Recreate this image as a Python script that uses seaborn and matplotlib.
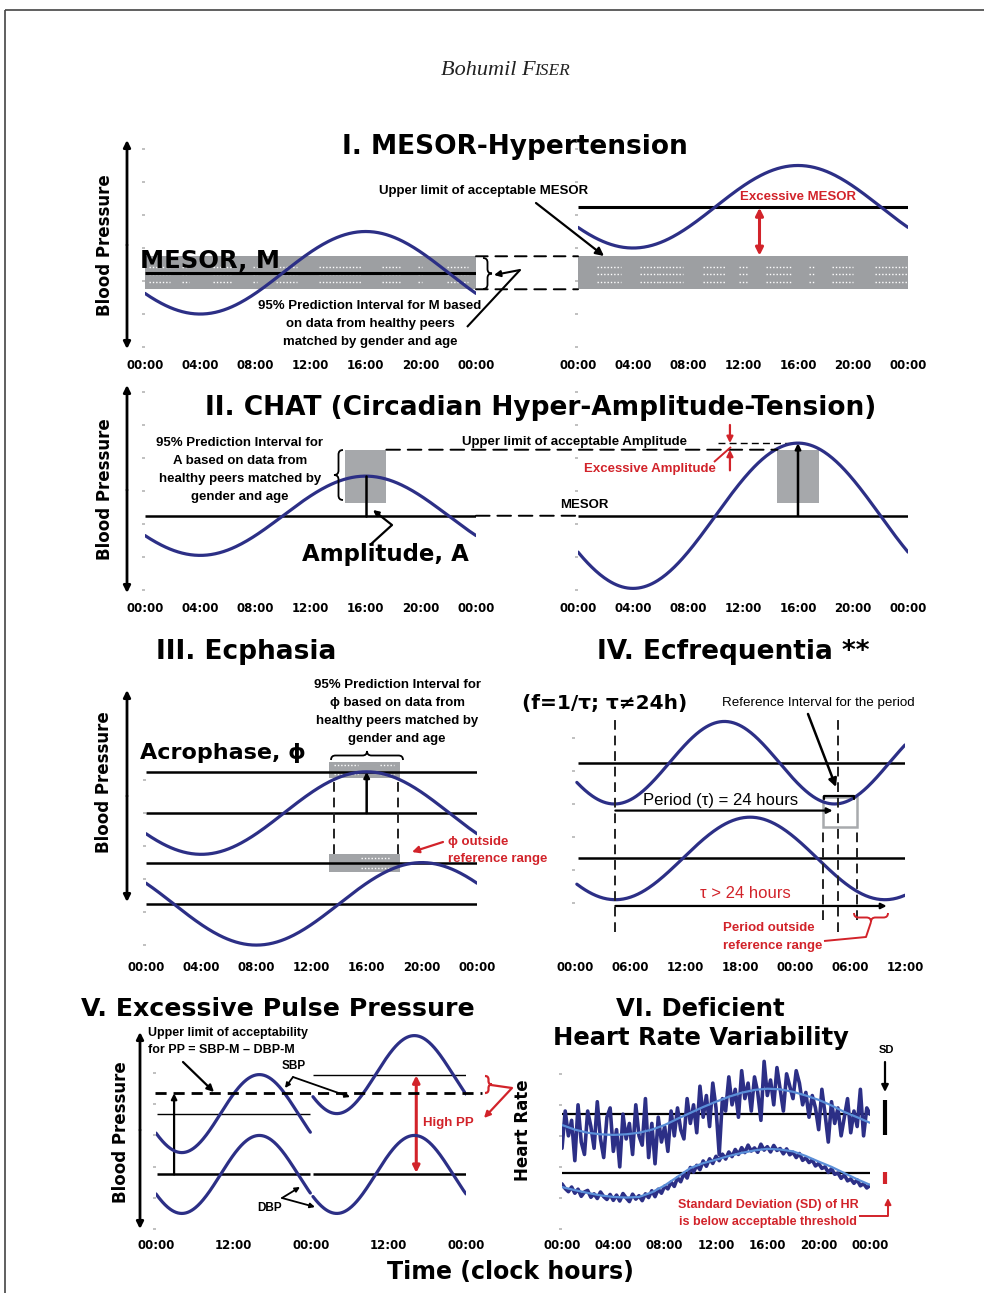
import numpy as np
import matplotlib
matplotlib.use("Agg")
import matplotlib.pyplot as plt
from matplotlib.path import Path
from matplotlib.patches import PathPatch, Rectangle, ConnectionPatch
import seaborn as sns

W, H = 984, 1293
sns.set_theme(style="white")
plt.rcParams["font.family"] = ["DejaVu Sans"]

NAVY = "#2C2F86"
LIGHT = "#5B8FD8"
RED = "#D2232A"
BAND = "#9D9FA2"
AR = ["Liberation Sans", "DejaVu Sans"]

# ------------------------------------------------------------------ data
ticks24 = [0, 4, 8, 12, 16, 20, 24]
labels24 = ["00:00", "04:00", "08:00", "12:00", "16:00", "20:00", "00:00"]
ticks36 = [0, 6, 12, 18, 24, 30, 36]
labels36 = ["00:00", "06:00", "12:00", "18:00", "00:00", "06:00", "12:00"]
ticks48 = [0, 12, 24, 36, 48]
labels48 = ["00:00", "12:00", "00:00", "12:00", "00:00"]
bp_ticks = [60, 80, 100, 120, 140, 160, 180]

# I. MESOR-hypertension (cosinor: MESOR, amplitude, acrophase in h)
I_mesor = [105, 145]
I_amp = [25, 25]
I_acro = [16, 16]
I_mesor_pi = [95, 115]
I_excess_at = 13.2

# II. CHAT
II_mesor = [105, 105]
II_amp = [24, 44]
II_acro = [16, 16]
II_amp_pi = [113, 145]
II_pi_hours = [14.5, 17.5]

# III. Ecphasia
III_mesor = [140, 85]
III_amp = [25, 25]
III_acro = [16, 20]
III_levels = [165, 140, 110, 85]
III_pi_hours = [13.3, 18.4]
III_box_top = [161, 171]
III_box_bot = [104, 115]

# IV. Ecfrequentia
IV_mesor = [145, 87]
IV_amp = [25, 25]
IV_acro = [16.3, 19.1]
IV_period = [24.0, 29.4]
IV_trough = 4.4
IV_ref_window = [27.0, 30.75]
IV_ref_center = 28.7
IV_box_y = [106, 124]

# V. Excessive pulse pressure
V_sbp_mesor = [134, 159]
V_dbp_mesor = [95, 95]
V_amp = 25
V_acro = 16
V_pp_limit = 147

# VI. Deficient heart rate variability (15-min samples, 00:00 - 24:00)
hr_noisy = [76, 88, 80, 85, 72, 90, 78, 74, 88, 83, 76, 91, 79, 73, 86, 89,
            75, 82, 70, 87, 79, 84, 74, 90, 80, 77, 92, 73, 84, 71, 86, 78,
            83, 75, 88, 80, 89, 82, 79, 92, 84, 90, 81, 96, 86, 93, 83, 97,
            89, 74, 92, 88, 99, 90, 95, 86, 101, 92, 97, 88, 99, 94, 85, 104,
            93, 98, 90, 102, 95, 88, 100, 96, 92, 101, 97, 90, 94, 86, 93, 89,
            82, 95, 87, 78, 91, 84, 89, 80, 86, 92, 81, 88, 83, 95, 80, 89, 87]
hr_smooth = [83.5, 82, 81, 80.5, 80.3, 80.5, 81, 82, 83.5, 85.5, 87.4, 89.3, 91,
             92.6, 93.9, 94.8, 95.2, 95, 94.2, 93, 91.6, 89.8, 87.7, 86, 84.2]
sd_noisy = [64.5, 63.0, 62.0, 63.5, 61.5, 62.8, 60.5, 61.9, 62.4, 60.2, 61.3, 59.8,
            61.9, 60.4, 59.5, 61.1, 59.2, 60.9, 59.0, 61.4, 60.0, 58.8, 61.2, 59.6,
            60.7, 59.1, 61.3, 60.1, 62.3, 60.4, 62.8, 61.5, 63.8, 62.9, 65.1, 63.7,
            66.5, 65.2, 67.9, 66.4, 69.8, 68.3, 70.5, 69.1, 71.9, 70.2, 72.6, 71.1,
            73.4, 72.0, 74.1, 72.5, 74.8, 73.3, 75.6, 74.0, 76.2, 74.6, 77.0, 75.1,
            76.1, 74.7, 77.3, 75.4, 76.5, 74.8, 76.9, 75.3, 75.9, 74.2, 75.8, 73.9,
            74.7, 73.0, 74.3, 72.1, 72.9, 71.4, 72.2, 70.3, 71.1, 69.5, 70.0, 68.2,
            69.4, 67.6, 68.0, 66.3, 67.4, 65.5, 66.1, 64.7, 65.8, 63.9, 64.6, 63.2, 64.0]
sd_smooth = [63.5, 62.5, 61.6, 60.8, 60.3, 60.1, 60.3, 61.8, 64, 66.8, 69.6, 71.2,
             72.3, 73.5, 74.5, 75.3, 75.8, 75.6, 75, 73.5, 71.7, 70, 68, 66, 64.2]
VI_levels = [87, 68]

# ------------------------------------------------------------------ helpers
fig = plt.figure(figsize=(W / 100, H / 100), dpi=100)
fig.patch.set_facecolor("white")
all_axes = []


def make_ax(x0, x1, ytop, ybot, xlim, ylim, xt, xl, yt):
    ax = fig.add_axes([x0 / W, 1 - ybot / H, (x1 - x0) / W, (ybot - ytop) / H])
    ax.set_facecolor("none")
    for s in ax.spines.values():
        s.set_visible(False)
    ax.set_xticks(xt)
    ax.set_xticklabels(xl, fontsize=8.5, fontweight="bold")
    ax.set_yticks(yt)
    ax.set_yticklabels([])
    ax.tick_params(axis="x", length=0, pad=5, colors="black")
    ax.tick_params(axis="y", length=2.5, width=1.2, color="#b5b5b5", left=True)
    ax.grid(False)
    all_axes.append((ax, xlim, ylim))
    return ax


def cosinor(t, M, A, phi, tau=24.0):
    return M + A * np.cos(2 * np.pi * (np.asarray(t) - phi) / tau)


def curve(ax, t, y, color=NAVY, lw=2.3, **kw):
    sns.lineplot(x=np.asarray(t), y=np.asarray(y), ax=ax, color=color, linewidth=lw,
                 estimator=None, sort=False, legend=False, **kw)


def hline(ax, y, x0, x1, lw=1.8, color="black", **kw):
    ax.plot([x0, x1], [y, y], color=color, lw=lw, solid_capstyle="butt", **kw)


def darrow(ax, p_from, p_to, color="black", lw=1.6, style="-|>", ms=10):
    ax.annotate("", xy=p_to, xytext=p_from,
                arrowprops=dict(arrowstyle=style, color=color, lw=lw, shrinkA=0,
                                shrinkB=0, mutation_scale=ms), annotation_clip=False)


def connect(axA, pA, axB, pB, **kw):
    con = ConnectionPatch(xyA=pA, coordsA=axA.transData, xyB=pB, coordsB=axB.transData, **kw)
    fig.add_artist(con)


def texture(ax, rows, spans):
    for y in rows:
        for a, b in spans:
            ax.plot([a, b], [y, y], color="white", lw=1.0, ls=(0, (1, 1.4)), zorder=2)


# overlay in pixel coordinates for annotations
ov = fig.add_axes([0, 0, 1, 1], zorder=10)
ov.set_xlim(0, W)
ov.set_ylim(H, 0)
ov.axis("off")
ov.patch.set_alpha(0)


def t_(x, y, s, size=9.5, color="black", weight="bold", ha="center", va="center",
       family=None, **kw):
    ov.text(x, y, s, fontsize=size, color=color, fontweight=weight, ha=ha, va=va,
            family=family or AR, **kw)


def parrow(p_from, p_to, color="black", lw=1.5, style="-|>", ms=10):
    ov.annotate("", xy=p_to, xytext=p_from,
                arrowprops=dict(arrowstyle=style, color=color, lw=lw, shrinkA=0,
                                shrinkB=0, mutation_scale=ms))


def pline(xs, ys, color="black", lw=1.5, **kw):
    ov.plot(xs, ys, color=color, lw=lw, solid_capstyle="butt", **kw)


def brace(p0, p1, depth, color="black", lw=1.3):
    p0 = np.array(p0, float)
    p1 = np.array(p1, float)
    d = p1 - p0
    L = np.hypot(*d)
    d = d / L
    n = np.array([-d[1], d[0]])
    h = depth / 2.0
    r = min(abs(h), L / 4)
    m = (p0 + p1) / 2
    verts = [p0, p0 + n * h, p0 + n * h + d * r, m + n * h - d * r, m + n * h, m + n * depth,
             m + n * h, m + n * h + d * r, p1 + n * h - d * r, p1 + n * h, p1]
    codes = [Path.MOVETO, Path.CURVE3, Path.CURVE3, Path.LINETO, Path.CURVE3, Path.CURVE3,
             Path.CURVE3, Path.CURVE3, Path.LINETO, Path.CURVE3, Path.CURVE3]
    ov.add_patch(PathPatch(Path(verts, codes), fill=False, edgecolor=color, lw=lw))


t24 = np.linspace(0, 24, 241)

# ------------------------------------------------------------------ page frame & header
pline([5, W], [10, 10], color="#444444", lw=1.2)
pline([5, 5], [10, H], color="#444444", lw=1.2)
ov.text(536, 75, "Bohumil F", fontsize=16, style="italic", family=["Liberation Serif", "DejaVu Serif"],
        ha="right", va="baseline", color="#222222")
ov.text(534, 75, "ISER", fontsize=12.5, style="italic", family=["Liberation Serif", "DejaVu Serif"],
        ha="left", va="baseline", color="#222222")

# ------------------------------------------------------------------ Panel I
t_(515, 147, "I. MESOR-Hypertension", size=19, family="DejaVu Sans")
t_(105, 245, "Blood Pressure", size=12, rotation=90, family="DejaVu Sans")
parrow((127, 245), (127, 140), lw=2, ms=10)
parrow((127, 245), (127, 349), lw=2, ms=10)

axIL = make_ax(145, 476, 130, 352, (0, 24), (57, 191.5), ticks24, labels24, bp_ticks)
axIL.fill_between([0, 24], I_mesor_pi[0], I_mesor_pi[1], color=BAND, lw=0, zorder=1)
texture(axIL, [108.5, 104, 99.5],
        [(0.3, 1.8), (2.7, 3.2), (4.9, 6.3), (7.8, 8.1), (9.5, 11), (12.6, 15.7),
         (17.2, 18.5), (19.8, 20.1), (21.9, 23.4)])
hline(axIL, I_mesor[0], 0, 24, lw=2.2, zorder=3)
curve(axIL, t24, cosinor(t24, I_mesor[0], I_amp[0], I_acro[0]), zorder=4)

axIR = make_ax(578, 908, 130, 352, (0, 24), (57, 191.5), ticks24, labels24, bp_ticks)
axIR.fill_between([0, 24], I_mesor_pi[0], I_mesor_pi[1], color=BAND, lw=0, zorder=1)
texture(axIR, [108.5, 104, 99.5],
        [(1.4, 3.1), (4.5, 5.8), (5.9, 7.6), (9.1, 10.7), (11.7, 12.3), (13.7, 15.5),
         (16.8, 17.2), (18.5, 20.0), (21.6, 23.9)])
hline(axIR, I_mesor[1], 0, 24, lw=2.2, zorder=3)
curve(axIR, t24, cosinor(t24, I_mesor[1], I_amp[1], I_acro[1]), zorder=4)
darrow(axIR, (I_excess_at, I_mesor[1] - 0.6), (I_excess_at, I_mesor_pi[1] + 0.4),
       color=RED, lw=2.2, style="<|-|>", ms=11)
for yv in I_mesor_pi:
    connect(axIL, (24, yv), axIR, (0, yv), color="black", lw=1.4, ls=(0, (6, 4)))

t_(140, 268, "MESOR, M", size=17.5, ha="left", va="baseline", family="DejaVu Sans")
t_(798, 197, "Excessive MESOR", size=9.5, color=RED)
t_(484, 191, "Upper limit of acceptable MESOR", size=9.5)
parrow((536, 203), (604, 256), lw=1.6, ms=12)
brace((483, 258), (483, 289), -9, lw=1.3)
pline([467, 520], [327, 270], lw=1.5)
parrow((520, 270), (494, 275), lw=1.5, ms=9)
t_(370, 306, "95% Prediction Interval for M based")
t_(370, 324, "on data from healthy peers")
t_(370, 342, "matched by gender and age")

# ------------------------------------------------------------------ Panel II
t_(541, 408, "II. CHAT (Circadian Hyper-Amplitude-Tension)", size=19, family="DejaVu Sans")
t_(105, 489, "Blood Pressure", size=12, rotation=90, family="DejaVu Sans")
parrow((127, 490), (127, 385), lw=2, ms=10)
parrow((127, 490), (127, 593), lw=2, ms=10)

axIIL = make_ax(145, 476, 385, 595, (0, 24), (57, 184.2), ticks24, labels24, bp_ticks)
axIIL.add_patch(Rectangle((II_pi_hours[0], II_amp_pi[0]), II_pi_hours[1] - II_pi_hours[0],
                          II_amp_pi[1] - II_amp_pi[0], color=BAND, lw=0, zorder=1, alpha=0.9))
hline(axIIL, II_mesor[0], 0, 24, lw=1.8, zorder=3)
curve(axIIL, t24, cosinor(t24, II_mesor[0], II_amp[0], II_acro[0]), zorder=4)
axIIL.plot([II_acro[0], II_acro[0]], [II_mesor[0], II_mesor[0] + II_amp[0]], color="black",
           lw=1.8, zorder=5)

axIIR = make_ax(578, 908, 385, 595, (0, 24), (57, 184.2), ticks24, labels24, bp_ticks)
axIIR.add_patch(Rectangle((II_pi_hours[0], II_amp_pi[0]), II_pi_hours[1] - II_pi_hours[0],
                          II_amp_pi[1] - II_amp_pi[0], color=BAND, lw=0, zorder=1, alpha=0.9))
hline(axIIR, II_mesor[1], 0, 24, lw=1.8, zorder=3)
curve(axIIR, t24, cosinor(t24, II_mesor[1], II_amp[1], II_acro[1]), zorder=4)
darrow(axIIR, (II_acro[1], II_mesor[1]), (II_acro[1], II_mesor[1] + II_amp[1]), lw=1.8, ms=8)
axIIR.plot([10.2, II_acro[1]], [II_mesor[1] + II_amp[1]] * 2, color="black", lw=1.0,
           ls=(0, (5, 3)), clip_on=False)
darrow(axIIR, (11.05, 160), (11.05, II_mesor[1] + II_amp[1]), color=RED, lw=1.6, ms=9)
darrow(axIIR, (11.05, 132.5), (11.05, II_amp_pi[1]), color=RED, lw=1.6, ms=9)
connect(axIIL, (II_pi_hours[1], II_amp_pi[1]), axIIR, (II_pi_hours[0], II_amp_pi[1]),
        color="black", lw=1.4, ls=(0, (7, 4)))
connect(axIIL, (24, II_mesor[0]), axIIR, (0, II_mesor[1]), color="black", lw=1.4,
        ls=(0, (7, 4)))

t_(575, 442, "Upper limit of acceptable Amplitude")
t_(650, 469, "Excessive Amplitude", color=RED)
pline([714, 731], [462, 447], color=RED, lw=1.4)
t_(584, 505, "MESOR")
brace((343, 450), (343, 500), 9, lw=1.3)
t_(240, 443, "95% Prediction Interval for")
t_(240, 461, "A based on data from")
t_(240, 479, "healthy peers matched by")
t_(240, 497, "gender and age")
t_(385, 555, "Amplitude, A", size=16.5, family="DejaVu Sans")
pline([370, 392], [545, 525], lw=1.6)
parrow((392, 525), (373, 510), lw=1.6, ms=8)

# ------------------------------------------------------------------ Panel III
t_(246, 652, "III. Ecphasia", size=19, family="DejaVu Sans")
t_(104, 782, "Blood Pressure", size=12, rotation=90, family="DejaVu Sans")
parrow((127, 796), (127, 690), lw=2, ms=10)
parrow((127, 796), (127, 902), lw=2, ms=10)

axIII = make_ax(146, 477, 685, 954, (0, 24), (54.6, 217.6), ticks24, labels24,
                [60, 80, 100, 120, 140, 160])
for lv in III_levels:
    hline(axIII, lv, 0, 24, lw=1.8, zorder=3)
for box in (III_box_top, III_box_bot):
    axIII.add_patch(Rectangle((III_pi_hours[0], box[0]), III_pi_hours[1] - III_pi_hours[0],
                              box[1] - box[0], color=BAND, lw=0, zorder=1, alpha=0.95))
texture(axIII, [169, 163.5], [(13.6, 15.4), (17.0, 18.0)])
texture(axIII, [112.5, 106.5], [(15.6, 17.7)])
for xv in (III_pi_hours[0] + 0.3, III_pi_hours[1] - 0.1):
    axIII.plot([xv, xv], [III_box_bot[1], III_box_top[0]], color="#222222", lw=1.4,
               ls=(0, (5, 3)), zorder=3)
curve(axIII, t24, cosinor(t24, III_mesor[0], III_amp[0], III_acro[0]), zorder=4)
curve(axIII, t24, cosinor(t24, III_mesor[1], III_amp[1], III_acro[1]), zorder=4)
darrow(axIII, (III_acro[0], III_mesor[0]), (III_acro[0], III_mesor[0] + III_amp[0]), lw=1.8, ms=8)

t_(397, 685, "95% Prediction Interval for")
t_(397, 703, "ϕ based on data from")
t_(397, 721, "healthy peers matched by")
t_(397, 739, "gender and age")
brace((331, 760), (403, 760), -9, lw=1.3)
t_(140, 753, "Acrophase, ϕ", size=16, ha="left", family="DejaVu Sans")
parrow((443, 842), (412, 852), color=RED, lw=1.6, ms=10)
t_(448, 842, "ϕ outside", color=RED, ha="left")
t_(448, 859, "reference range", color=RED, ha="left")

# ------------------------------------------------------------------ Panel IV
t_(733, 652, "IV. Ecfrequentia **", size=19, family="DejaVu Sans")
t_(605, 703, "(f=1/τ; τ≠24h)", size=14.5, family="DejaVu Sans")
t_(818, 703, "Reference Interval for the period", size=9.6, weight="normal")

axIV = make_ax(575, 905, 700, 954, (0, 36), (29.1, 183.0), ticks36, labels36,
               [60, 80, 100, 120, 140, 160])
t36 = np.linspace(0.2, 36, 361)
for lv in IV_mesor:
    hline(axIV, lv, 0.3, 36, lw=1.8, zorder=3)
curve(axIV, t36, cosinor(t36, IV_mesor[0], IV_amp[0], IV_acro[0], IV_period[0]), zorder=4)
curve(axIV, t36, cosinor(t36, IV_mesor[1], IV_amp[1], IV_acro[1], IV_period[1]), zorder=4)
for xv in (IV_trough, IV_ref_center):
    axIV.plot([xv, xv], [42.4, 171], color="#222222", lw=1.4, ls=(0, (5, 3)), zorder=5)
for xv in IV_ref_window:
    axIV.plot([xv, xv], [49.7, IV_box_y[0]], color="#222222", lw=1.4, ls=(0, (5, 3)), zorder=5)
axIV.add_patch(Rectangle((IV_ref_window[0], IV_box_y[0]), IV_ref_window[1] - IV_ref_window[0],
                         IV_box_y[1] - IV_box_y[0], fill=False, edgecolor="#A8AAAD", lw=1.8,
                         zorder=3))
axIV.plot([27.2, 27.2, 30.4, 30.4], [123.3, 124.8, 124.8, 123.3], color="black", lw=1.6, zorder=6)
darrow(axIV, (IV_trough, 116), (IV_trough + IV_period[0] - 0.3, 116), lw=1.6, ms=8)
darrow(axIV, (IV_trough, 58.2), (34.0, 58.2), lw=1.6, ms=8)
t_(721, 800, "Period (τ) = 24 hours", size=12, weight="normal")
t_(745, 893, "τ > 24 hours", size=12, weight="normal", color=RED)
parrow((808, 714), (836, 787), lw=1.8, ms=12)
brace((854, 913), (888, 913), 9, color=RED, lw=1.4)
pline([871, 866, 824], [922, 937, 941], color=RED, lw=1.4)
t_(723, 928, "Period outside", color=RED, ha="left")
t_(723, 946, "reference range", color=RED, ha="left")

# ------------------------------------------------------------------ Panel V
t_(278, 1009, "V. Excessive Pulse Pressure", size=18.2, family="DejaVu Sans")
t_(121, 1132, "Blood Pressure", size=12, rotation=90, family="DejaVu Sans")
parrow((140, 1130), (140, 1032), lw=2, ms=10)
parrow((140, 1130), (140, 1229), lw=2, ms=10)

axV = make_ax(156, 466, 1020, 1232, (0, 48), (58.1, 194.0), ticks48, labels48,
              [60, 80, 100, 120, 140, 160])
tL = np.linspace(0, 23.9, 240)
tR = np.linspace(24.3, 48, 238)
hline(axV, V_sbp_mesor[0], 0.2, 23.9, lw=1.0, zorder=3)
hline(axV, V_sbp_mesor[1], 24.3, 48, lw=1.0, zorder=3)
hline(axV, V_dbp_mesor[0], 0.2, 23.9, lw=1.8, zorder=3)
hline(axV, V_dbp_mesor[1], 24.3, 48, lw=1.8, zorder=3)
curve(axV, tL, cosinor(tL, V_sbp_mesor[0], V_amp, V_acro), zorder=4)
curve(axV, tL, cosinor(tL, V_dbp_mesor[0], V_amp, V_acro), zorder=4)
curve(axV, tR, cosinor(tR, V_sbp_mesor[1], V_amp, V_acro), zorder=4)
curve(axV, tR, cosinor(tR, V_dbp_mesor[1], V_amp, V_acro), zorder=4)
axV.plot([-0.2, 50.5], [V_pp_limit, V_pp_limit], color="black", lw=2.0, ls=(0, (4, 2.5)),
         clip_on=False, zorder=5)
darrow(axV, (2.8, V_dbp_mesor[0]), (2.8, V_pp_limit), lw=1.6, ms=8)
darrow(axV, (40.3, V_dbp_mesor[1] + 1), (40.3, V_sbp_mesor[1] - 0.5), color=RED, lw=2.2,
       style="<|-|>", ms=10)
t_(423, 1123, "High PP", color=RED, ha="left")
brace((485, 1076), (485, 1093), -7, color=RED, lw=1.6)
pline([491, 512], [1085, 1088], color=RED, lw=1.6)
parrow((512, 1088), (484, 1118), color=RED, lw=1.6, ms=9)
t_(148, 1033, "Upper limit of acceptability", size=9, ha="left")
t_(148, 1050, "for PP = SBP-M – DBP-M", size=9, ha="left")
parrow((183, 1062), (214, 1092), lw=1.6, ms=10)
t_(294, 1066, "SBP", size=8.5)
parrow((293, 1077), (285, 1088), lw=1.3, ms=7)
parrow((293, 1077), (350, 1097), lw=1.3, ms=7)
t_(270, 1208, "DBP", size=8.5)
parrow((282, 1198), (300, 1187), lw=1.3, ms=7)
parrow((282, 1198), (315, 1207), lw=1.3, ms=7)

# ------------------------------------------------------------------ Panel VI
t_(700, 1009, "VI. Deficient", size=17.5, family="DejaVu Sans")
t_(701, 1038, "Heart Rate Variability", size=17.5, family="DejaVu Sans")
t_(523, 1130, "Heart Rate", size=12, rotation=90, family="DejaVu Sans")

axVI = make_ax(562, 870, 1040, 1232, (0, 24), (49, 110.9), ticks24, labels24,
               [50, 60, 70, 80, 90, 100])
for lv in VI_levels:
    hline(axVI, lv, 0, 24.1, lw=1.6, zorder=3)
th = np.linspace(0, 24, len(hr_noisy))
ts = np.linspace(0, 24, len(sd_noisy))
tsm = np.arange(len(hr_smooth))
curve(axVI, th, hr_noisy, lw=2.6, zorder=4)
curve(axVI, tsm, hr_smooth, color=LIGHT, lw=1.6, zorder=5)
curve(axVI, ts, sd_noisy, lw=2.6, zorder=4)
curve(axVI, tsm, sd_smooth, color=LIGHT, lw=1.6, zorder=5)

t_(886, 1050, "SD", size=8)
parrow((885, 1062), (885, 1092), lw=1.6, ms=10)
pline([885, 885], [1100, 1135], lw=3)
pline([885, 885], [1172, 1184], color=RED, lw=3)
t_(768, 1205, "Standard Deviation (SD) of HR", color=RED, size=9)
t_(768, 1222, "is below acceptable threshold", color=RED, size=9)
pline([859, 888], [1216, 1216], color=RED, lw=1.4)
parrow((888, 1216), (888, 1198), color=RED, lw=1.4, ms=9)

t_(510, 1272, "Time (clock hours)", size=17, family="DejaVu Sans")

for ax, xl, yl in all_axes:
    ax.set_xlim(*xl)
    ax.set_ylim(*yl)
    ax.set_xlabel("")
    ax.set_ylabel("")

fig.savefig("out.png", dpi=100, facecolor="white")
